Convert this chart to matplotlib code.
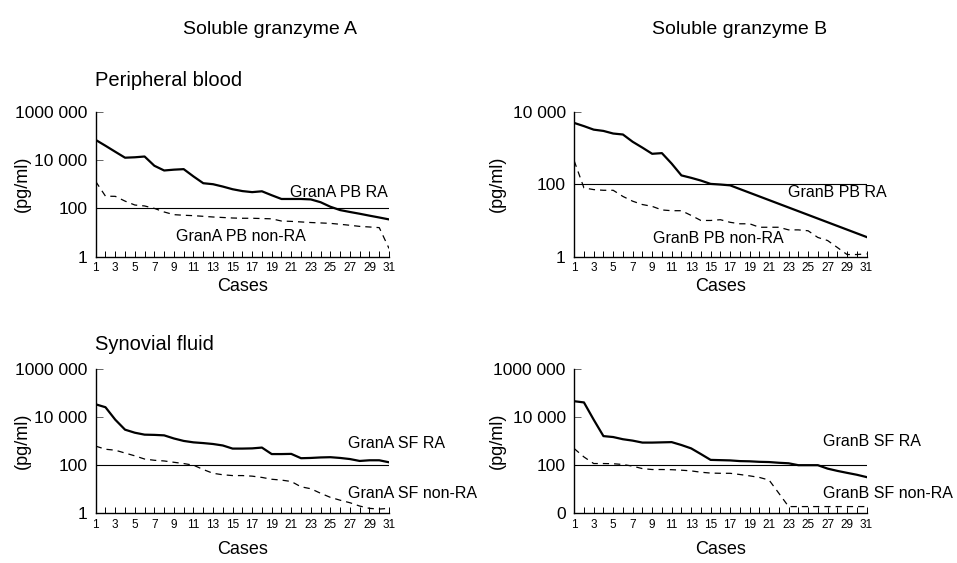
import matplotlib
matplotlib.use("Agg")
import matplotlib.pyplot as plt

plt.rcParams['font.family'] = ['Liberation Sans', 'DejaVu Sans']

cases = list(range(1, 32))

# Peripheral blood, granzyme A (pg/ml)
grana_pb_ra = [68000, 39000, 22000, 12500, 13000, 14000, 5800, 3700, 4000, 4200,
               2100, 1100, 1000, 800, 620, 520, 470, 510, 350, 245,
               245, 245, 235, 180, 117, 85, 71, 60, 50, 42, 35]
grana_pb_non = [1300, 320, 315, 200, 138, 126, 100, 71, 55, 52,
                50, 47, 44, 42, 40, 39, 39, 38, 37, 30,
                29, 27.5, 26, 25, 24, 22, 20, 18, 17, 16, 2.2]

# Peripheral blood, granzyme B (RA series only has break points up to case 17, then 31)
granb_pb_ra_cases = list(range(1, 18)) + [31]
granb_pb_ra = [4900, 4000, 3200, 2950, 2500, 2350, 1480, 1020, 690, 720,
               370, 175, 150, 126, 102, 98, 93, 3.5]
granb_pb_non = [440, 79, 71, 68, 68, 46, 34, 27.5, 24.5, 19.5,
                18.6, 18.6, 13.8, 10, 10, 10.5, 8.9, 8.1, 8.1, 6.5,
                6.5, 6.5, 5.5, 5.5, 5.2, 3.4, 2.8, 1.8, 1.15, 1.15, 1.2]

# Synovial fluid, granzyme A
grana_sf_ra = [34000, 25700, 7800, 3000, 2240, 1860, 1820, 1740, 1290, 1020,
               890, 830, 760, 660, 490, 490, 500, 540, 290, 290,
               295, 195, 200, 210, 215, 200, 180, 150, 160, 160, 132]
grana_sf_non = [620, 460, 420, 320, 245, 180, 160, 150, 132, 117,
                100, 66, 46, 40, 37, 37, 35, 31, 26, 24,
                21, 12.6, 10.5, 6.8, 4.6, 3.5, 2.75, 2.0, 1.6, 1.5, 1.6]

# Synovial fluid, granzyme B
granb_sf_ra = [45700, 40700, 7800, 1620, 1480, 1200, 1050, 870, 870, 890,
               910, 690, 500, 290, 166, 162, 158, 148, 145, 138,
               135, 126, 120, 100, 100, 100, 72, 58, 48, 40, 32]
granb_sf_non = [490, 220, 117, 117, 115, 107, 91, 72, 66, 66,
                65, 62, 58, 51, 47, 46, 46, 41, 36, 31,
                24, 6.8, 1.9, 1.9, 1.9, 1.9, 1.9, 1.9, 1.9, 1.9, 1.9]

cutoff = 100

fig = plt.figure(figsize=(9.57, 5.63), dpi=100)

panels = [
    # rect, ra x, ra y, non x, non y, ymax, ticks, tick labels, label pos, labels, ylabel x, xlabel y
    ([0.100, 0.544, 0.3065, 0.2576], cases, grana_pb_ra, cases, grana_pb_non, 1e6,
     [1, 100, 1e4, 1e6], ["1", "100", "10 000", "1000 000"],
     (20.9, 10**2.64), (9.2, 10**0.82), "GranA PB RA", "GranA PB non-RA", -0.22, -0.15),
    ([0.600, 0.544, 0.3055, 0.2576], granb_pb_ra_cases, granb_pb_ra, cases, granb_pb_non, 1e4,
     [1, 100, 1e4], ["1", "100", "10 000"],
     (22.9, 10**1.77), (9.05, 10**0.50), "GranB PB RA", "GranB PB non-RA", -0.232, -0.15),
    ([0.100, 0.0883, 0.3065, 0.2563], cases, grana_sf_ra, cases, grana_sf_non, 1e6,
     [1, 100, 1e4, 1e6], ["1", "100", "10 000", "1000 000"],
     (26.8, 10**2.91), (26.8, 10**0.84), "GranA SF RA", "GranA SF non-RA", -0.22, -0.195),
    ([0.600, 0.0883, 0.3055, 0.2563], cases, granb_sf_ra, cases, granb_sf_non, 1e6,
     [1, 100, 1e4, 1e6], ["0", "100", "10 000", "1000 000"],
     (26.5, 10**2.99), (26.5, 10**0.84), "GranB SF RA", "GranB SF non-RA", -0.232, -0.195),
]

for (rect, rx, ry, nx, ny, ymax, yt, ytl, rpos, npos, rlab, nlab, ylx, xly) in panels:
    ax = fig.add_axes(rect)
    ax.set_yscale("log")
    ax.plot(rx, ry, color="black", linewidth=1.6, solid_joinstyle="round")
    ax.plot(nx, ny, color="black", linewidth=0.9, linestyle=(0, (5, 4)))
    ax.plot([1, 31], [cutoff, cutoff], color="black", linewidth=0.8)
    ax.set_xlim(1, 31)
    ax.set_ylim(1, ymax)
    ax.set_yticks(yt)
    ax.set_yticklabels(ytl, fontsize=12.5)
    ax.minorticks_off()
    ax.set_xticks(cases)
    ax.set_xticklabels([str(c) if c % 2 == 1 else "" for c in cases], fontsize=8.5)
    ax.tick_params(axis="x", direction="in", length=4, width=0.7, pad=4)
    ax.tick_params(axis="y", direction="in", length=5, width=0.7, pad=6, color="#666666")
    for s in ["top", "right"]:
        ax.spines[s].set_visible(False)
    ax.spines["left"].set_linewidth(1.0)
    ax.spines["bottom"].set_linewidth(1.0)
    ax.set_ylabel("(pg/ml)", fontsize=13)
    ax.yaxis.set_label_coords(ylx, 0.5)
    ax.set_xlabel("Cases", fontsize=13)
    ax.xaxis.set_label_coords(0.5, xly)
    ax.text(rpos[0], rpos[1], rlab, fontsize=11.5, va="center", ha="left", clip_on=False)
    ax.text(npos[0], npos[1], nlab, fontsize=11.5, va="center", ha="left", clip_on=False)

fig.text(270 / 957, 1 - 30 / 563, "Soluble granzyme A", fontsize=14, ha="center", va="center")
fig.text(740 / 957, 1 - 30 / 563, "Soluble granzyme B", fontsize=14, ha="center", va="center")
fig.text(95 / 957, 1 - 80 / 563, "Peripheral blood", fontsize=14.5, ha="left", va="center")
fig.text(95 / 957, 1 - 345 / 563, "Synovial fluid", fontsize=14.5, ha="left", va="center")

fig.savefig("out.png", dpi=100)
